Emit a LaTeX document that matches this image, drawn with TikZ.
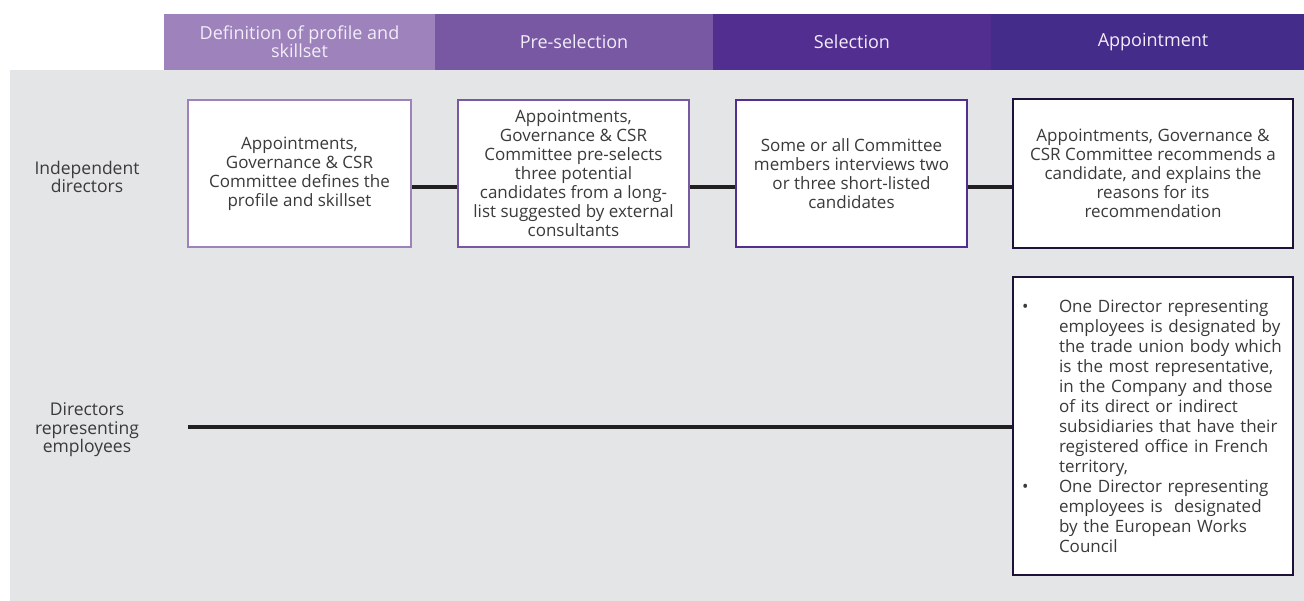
\documentclass[tikz,border=0pt]{standalone}
\usepackage{fontspec}
\setmainfont{Open Sans}
\usepackage{tikz}
\usetikzlibrary{positioning}

\definecolor{phaseA}{HTML}{9D82BC}
\definecolor{phaseB}{HTML}{7858A3}
\definecolor{phaseC}{HTML}{522E91}
\definecolor{phaseD}{HTML}{432C8A}
\definecolor{panelgray}{HTML}{E4E5E7}
\definecolor{ink}{HTML}{3A3A3A}
\definecolor{darkedge}{HTML}{1E1238}
\definecolor{headtext}{HTML}{F2EDF8}
\definecolor{railcol}{HTML}{231F20}

\begin{document}
\begin{tikzpicture}[x=1pt,y=-1pt,
  phase/.style={fill=#1,text=headtext,minimum height=56pt,align=center,font=\fontsize{18}{18}\selectfont},
  stepbox/.style={draw=#1,line width=2pt,fill=white,text=ink,align=center,minimum height=147pt,font=\fontsize{17}{19}\selectfont},
  lanelabel/.style={text=ink,align=center,font=\fontsize{17.5}{18.5}\selectfont},
  railline/.style={draw=railcol,line width=4.5pt}]
\tikzstyle{every node}+=[inner sep=0pt]
\useasboundingbox (0,0) rectangle (1304,601);
\fill [panelgray] (10,70) rectangle (1304,601);
% phase header
\node [phase=phaseA,minimum width=271pt] (h1) at (299.5,42) {Definition of profile and\\skillset};
\node [phase=phaseB,minimum width=278pt] (h2) at (574,42) {Pre-selection};
\node [phase=phaseC,minimum width=278pt] (h3) at (852,42) {Selection};
\node [phase=phaseD,minimum width=313pt] (h4) at (1147.5,42) {\hspace*{11pt}Appointment};
% lanes
\node [lanelabel] (l1) at (87,177) {Independent\\directors};
\node [lanelabel] (l2) at (87,430) {Directors\\representing\\employees};
\coordinate (lane1) at (0,187);
\coordinate (lane2) at (0,427);
\coordinate (start2) at (188,427);
% steps
\node [stepbox=phaseA,minimum width=223pt] (b1) at (299.5,173.5) {Appointments,\\Governance \& CSR\\Committee defines the\\profile and skillset};
\node [stepbox=phaseB,minimum width=231pt] (b2) at (573.5,173.5) {Appointments,\\Governance \& CSR\\Committee pre-selects\\three potential\\candidates from a long-\\list suggested by external\\consultants};
\node [stepbox=phaseC,minimum width=231pt] (b3) at (851.5,173.5) {Some or all Committee\\members interviews two\\or three short-listed\\candidates};
\node [stepbox=darkedge,minimum width=280pt,minimum height=149pt] (b4) at (1153,173.5) {Appointments, Governance \&\\CSR Committee recommends a\\candidate, and explains the\\reasons for its\\recommendation};
\node [stepbox=darkedge,minimum width=280pt,minimum height=298pt,text width=262pt,inner xsep=9pt,align=left,font=\fontsize{17}{20}\selectfont] (b5) at (1153,426) {\makebox[37pt][l]{\textbullet}One Director representing\\
\hspace*{37pt}employees is designated by\\
\hspace*{37pt}the trade union body which\\
\hspace*{37pt}is the most representative,\\
\hspace*{37pt}in the Company and those\\
\hspace*{37pt}of its direct or indirect\\
\hspace*{37pt}subsidiaries that have their\\
\hspace*{37pt}registered office in French\\
\hspace*{37pt}territory,\\
\makebox[37pt][l]{\textbullet}One Director representing\\
\hspace*{37pt}employees is\ \ designated\\
\hspace*{37pt}by the European Works\\
\hspace*{37pt}Council};
% connectors
\draw [railline] (b1.east |- lane1) -- (b2.west |- lane1);
\draw [railline] (b2.east |- lane1) -- (b3.west |- lane1);
\draw [railline] (b3.east |- lane1) -- (b4.west |- lane1);
\draw [railline] (start2) -- (b5.west |- lane2);
\end{tikzpicture}
\end{document}
